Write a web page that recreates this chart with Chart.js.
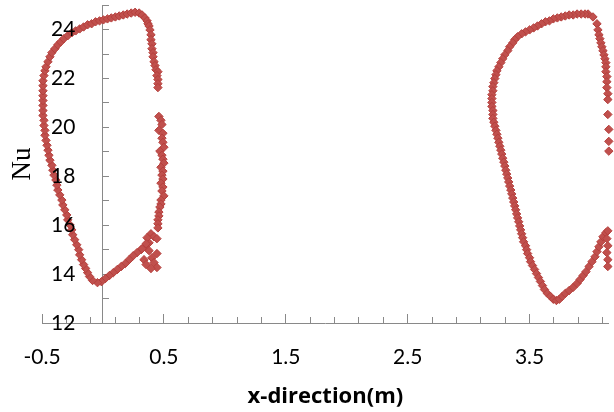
<!DOCTYPE html>
<html>
<head>
<meta charset="utf-8">
<script src="https://cdn.jsdelivr.net/npm/chart.js@4.4.1/dist/chart.umd.min.js"></script>
<style>
  html, body { margin: 0; padding: 0; background: #fff; }
</style>
</head>
<body>
<canvas id="nu-chart" width="614" height="412"></canvas>
<script>
// Nu along the x-direction, [x (m), Nu] pairs
const leftLoop = [
  [0.378,15.28],[0.345,15.12],[0.313,15.00],[0.280,14.88],[0.248,14.75],[0.215,14.59],[0.183,14.43],
  [0.150,14.31],[0.118,14.19],[0.085,14.06],[0.053,13.94],[0.020,13.82],[-0.012,13.69],[-0.045,13.65],
  [-0.085,13.74],[-0.110,13.90],[-0.126,14.06],[-0.142,14.23],[-0.159,14.39],[-0.175,14.59],[-0.191,14.79],
  [-0.199,15.00],[-0.215,15.20],[-0.232,15.41],[-0.248,15.61],[-0.256,15.81],[-0.272,16.02],[-0.289,16.22],
  [-0.297,16.42],[-0.313,16.63],[-0.329,16.83],[-0.337,17.03],[-0.354,17.24],[-0.370,17.44],[-0.378,17.64],
  [-0.386,17.85],[-0.402,18.05],[-0.411,18.25],[-0.419,18.45],[-0.435,18.66],[-0.443,18.86],[-0.451,19.07],
  [-0.459,19.27],[-0.467,19.47],[-0.476,19.68],[-0.476,19.88],[-0.484,20.08],[-0.484,20.29],[-0.492,20.49],
  [-0.492,20.69],[-0.492,20.90],[-0.492,21.10],[-0.492,21.30],[-0.492,21.50],[-0.492,21.71],[-0.492,21.91],
  [-0.484,22.12],[-0.476,22.32],[-0.467,22.48],[-0.451,22.69],[-0.435,22.89],[-0.419,23.06],[-0.394,23.22],
  [-0.370,23.38],[-0.346,23.50],[-0.321,23.63],[-0.289,23.75],[-0.256,23.87],[-0.224,23.95],[-0.191,24.03],
  [-0.159,24.11],[-0.126,24.20],[-0.093,24.24],[-0.061,24.32],[-0.028,24.36],[0.004,24.40],[0.037,24.44],
  [0.069,24.48],[0.102,24.52],[0.134,24.56],[0.167,24.60],[0.199,24.64],[0.232,24.68],[0.264,24.71],
  [0.297,24.68],[0.321,24.60],[0.345,24.48],[0.362,24.36],[0.370,24.24]
];

const leftColumn = [
  [0.378,24.15],[0.386,23.99],[0.394,23.79],[0.394,23.59],[0.402,23.42],[0.402,23.22],[0.411,23.06],
  [0.411,22.89],[0.419,22.69],[0.427,22.53],[0.435,22.36],[0.451,22.28],[0.443,22.12],[0.451,21.96],
  [0.451,21.79],[0.451,21.63],
  [0.459,20.45],[0.476,20.29],[0.484,20.12],[0.459,19.88],[0.492,19.76],[0.484,19.56],[0.492,19.39],
  [0.500,19.19],[0.467,19.03],[0.484,18.86],[0.492,18.70],[0.500,18.54],[0.476,18.37],[0.492,18.21],
  [0.484,18.05],[0.492,17.89],[0.476,17.72],[0.492,17.56],[0.484,17.40],[0.500,17.20],[0.476,17.03],
  [0.476,16.87],[0.467,16.74],[0.459,16.54],[0.459,16.38],[0.451,16.22],[0.451,16.06],[0.451,15.89],
  [0.394,15.65],[0.419,15.53],[0.362,15.49],[0.443,15.45],[0.354,15.24],[0.321,15.04],[0.378,14.96],
  [0.443,14.84],[0.402,14.67],[0.337,14.59],[0.419,14.47],[0.354,14.39],[0.443,14.27],[0.394,14.23]
];

const rightLoop = [
  [3.980,24.64],[3.955,24.64],[3.923,24.64],[3.890,24.64],[3.858,24.60],[3.825,24.60],[3.793,24.56],
  [3.760,24.52],[3.728,24.48],[3.695,24.44],[3.663,24.36],[3.630,24.32],[3.598,24.24],[3.565,24.15],
  [3.533,24.07],[3.500,23.99],[3.467,23.91],[3.435,23.83],[3.402,23.71],[3.378,23.59],[3.362,23.46],
  [3.337,23.30],[3.321,23.14],[3.297,22.97],[3.280,22.81],[3.264,22.65],[3.248,22.48],[3.232,22.32],
  [3.224,22.16],[3.215,22.00],[3.207,21.83],[3.199,21.67],[3.199,21.50],[3.191,21.34],[3.191,21.18],
  [3.191,21.02],[3.191,20.86],[3.199,20.69],[3.199,20.53],[3.199,20.37],[3.207,20.21],[3.215,20.05],
  [3.224,19.88],[3.232,19.72],[3.240,19.56],[3.248,19.39],[3.256,19.23],[3.264,19.07],[3.272,18.91],
  [3.280,18.74],[3.289,18.58],[3.297,18.42],[3.305,18.25],[3.313,18.09],[3.321,17.93],[3.329,17.77],
  [3.337,17.60],[3.346,17.44],[3.354,17.28],[3.362,17.11],[3.370,16.95],[3.378,16.79],[3.386,16.63],
  [3.394,16.46],[3.402,16.30],[3.411,16.14],[3.419,15.97],[3.427,15.81],[3.435,15.65],[3.443,15.49],
  [3.451,15.32],[3.467,15.16],[3.476,15.00],[3.484,14.84],[3.500,14.67],[3.508,14.51],[3.524,14.35],
  [3.541,14.19],[3.557,14.02],[3.573,13.86],[3.589,13.70],[3.606,13.53],[3.622,13.37],[3.646,13.21],
  [3.671,13.09],[3.695,12.97],[3.720,12.92],[3.744,12.97],[3.768,13.09],[3.793,13.21],[3.825,13.33],
  [3.858,13.46],[3.890,13.62],[3.915,13.78],[3.939,13.94],[3.963,14.10],[3.988,14.31],[4.012,14.51],
  [4.037,14.71],[4.053,14.92],[4.069,15.12],[4.085,15.32],[4.102,15.53],[4.126,15.69],[4.142,15.77]
];

const rightColumn = [
  [4.020,24.52],[4.053,24.24],[4.061,23.99],[4.069,23.79],[4.077,23.63],[4.085,23.46],[4.093,23.30],
  [4.102,23.14],[4.110,22.97],[4.118,22.81],[4.126,22.65],[4.126,22.48],[4.126,22.28],[4.134,22.08],
  [4.134,21.87],[4.134,21.63],[4.142,21.38],[4.142,21.14],[4.142,20.53],[4.150,19.92],[4.150,19.43],
  [4.150,19.03],
  [4.134,15.45],[4.142,15.16],[4.134,14.88],[4.142,14.59],[4.142,14.31]
];

// axis ticks
const xTickValues = [-0.5, 0.5, 1.5, 2.5, 3.5];
const xTickLabels = ['-0.5', '0.5', '1.5', '2.5', '3.5'];
const yTickLabels = [12, 14, 16, 18, 20, 22, 24];

const xMin = -0.5, xMax = 4.15, yMin = 12, yMax = 25;
const axisGrey = '#898989';
const tickFont = { family: 'Lato', size: 21 };

const xMinorTicks = [];
for (let v = xMin; v <= xMax; v += 0.2) xMinorTicks.push({ value: v });
const yMarkTicks = [];
for (let v = yMin; v <= yMax; v += 1) yMarkTicks.push({ value: v });

const points = leftLoop.concat(leftColumn, rightLoop, rightColumn).map(p => ({ x: p[0], y: p[1] }));

// rotated serif "Nu" on the left
const nuTitle = {
  id: 'nuTitle',
  afterDraw(chart) {
    const ctx = chart.ctx;
    const area = chart.chartArea;
    ctx.save();
    ctx.translate(23, (area.top + area.bottom) / 2);
    ctx.rotate(-Math.PI / 2);
    ctx.font = '27px "Liberation Serif"';
    ctx.fillStyle = '#000';
    ctx.textAlign = 'center';
    ctx.textBaseline = 'middle';
    ctx.fillText('Nu', 0, 0);
    ctx.restore();
  }
};

const noPadding = s => { s.paddingLeft = 0; s.paddingRight = 0; s.paddingTop = 0; s.paddingBottom = 0; };

new Chart(document.getElementById('nu-chart'), {
  type: 'scatter',
  data: {
    datasets: [{
      label: 'Nu',
      data: points,
      pointStyle: 'rectRot',
      pointRadius: 4.2,
      backgroundColor: '#c0504d',
      borderColor: '#b5403d',
      borderWidth: 1,
      clip: false
    }]
  },
  options: {
    responsive: false,
    animation: false,
    events: [],
    layout: { padding: { left: 0, right: 0, top: 3, bottom: 0 } },
    plugins: { legend: { display: false }, tooltip: { enabled: false } },
    scales: {
      x: {
        type: 'linear',
        position: 'bottom',
        min: xMin,
        max: xMax,
        afterBuildTicks: s => { s.ticks = xTickValues.map(v => ({ value: v })); },
        afterFit: s => { noPadding(s); s.height = 89; },
        grid: { drawOnChartArea: false, drawTicks: true, tickLength: -9, tickColor: axisGrey },
        border: { color: axisGrey },
        ticks: { padding: 31, color: '#000', font: tickFont, autoSkip: false, maxRotation: 0,
                 callback: (v, i) => xTickLabels[i] },
        title: { display: true, text: 'x-direction(m)', color: '#000',
                 font: { family: 'Open Sans', size: 22, weight: 'bold' }, padding: { top: 0, bottom: 2 } }
      },
      xMinor: {
        type: 'linear',
        axis: 'x',
        position: { y: 12 },
        min: xMin,
        max: xMax,
        afterBuildTicks: s => { s.ticks = xMinorTicks; },
        afterFit: noPadding,
        grid: { drawOnChartArea: false, drawTicks: true, tickLength: -6, tickColor: axisGrey },
        border: { display: false },
        ticks: { display: false }
      },
      // value labels, mirrored into the plot and drawn above the markers
      yLabels: {
        type: 'linear',
        axis: 'y',
        position: 'left',
        min: yMin,
        max: yMax,
        afterBuildTicks: s => { s.ticks = yTickLabels.map(v => ({ value: v })); },
        afterFit: s => { noPadding(s); s.width = 42; },
        grid: { display: false, drawTicks: false },
        border: { display: false },
        ticks: { mirror: true, padding: 9, z: 1, color: '#000', font: tickFont, autoSkip: false }
      },
      // axis line crossing at x = 0
      y: {
        type: 'linear',
        position: { x: 0 },
        min: yMin,
        max: yMax,
        afterBuildTicks: s => { s.ticks = yMarkTicks; },
        afterFit: noPadding,
        grid: { drawOnChartArea: false, drawTicks: true, tickLength: -7, tickColor: axisGrey },
        border: { color: axisGrey },
        ticks: { display: false }
      }
    }
  },
  plugins: [nuTitle]
});
</script>
</body>
</html>
